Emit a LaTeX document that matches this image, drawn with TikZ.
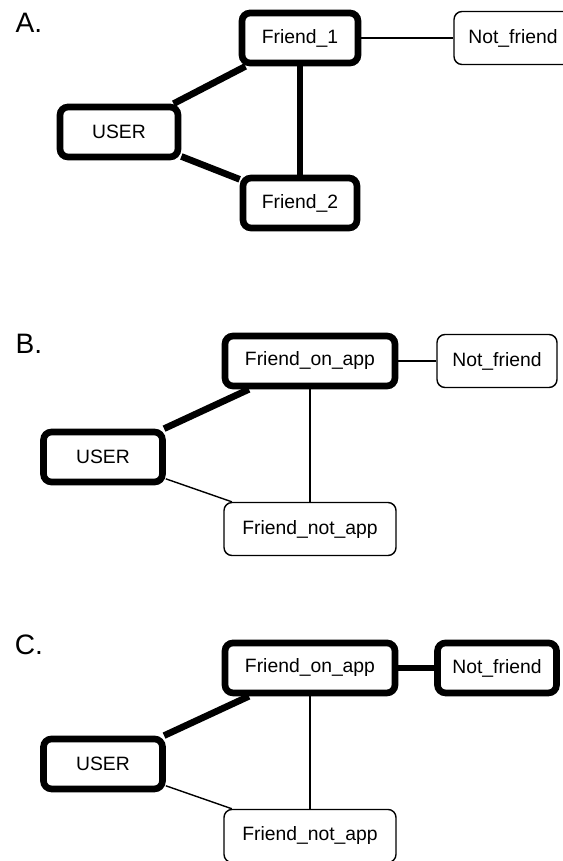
\documentclass[tikz,border=0pt]{standalone}
\usepackage{fontspec}
\setmainfont{Liberation Sans}
\tikzset{box/.style={draw, fill=white, rounded corners=0.16cm, minimum height=1.06cm, inner sep=2pt, line width=0.8pt, font=\fontsize{11}{13}\selectfont},
         hot/.style={line width=3.8pt, minimum height=1.0cm},
         link/.style={line width=0.8pt},
         strong/.style={line width=3.8pt},
         tag/.style={font=\fontsize{16}{18}\selectfont}}

\begin{document}
\begin{tikzpicture}[x=0.02cm,y=-0.02cm]
   \useasboundingbox (0,0) rectangle (562,861);
   % A.
   \node[tag] (la) at (29,23) {A.};
   \node[box,hot,minimum width=2.32cm] (fa)  at (300,38)  {Friend\_1};
   \node[box,minimum width=2.36cm]     (nf)  at (513,38)  {Not\_friend};
   \node[box,hot,minimum width=2.36cm] (usr) at (119,132) {USER};
   \node[box,hot,minimum width=2.28cm] (fb)  at (300,203) {Friend\_2};
   \draw[strong] (usr) -- (fa);
   \draw[strong] (usr) -- (fb);
   \draw[strong] (fa)  -- (fb);
   \draw[link]   (fa)  -- (nf);
   % B.
   \node[tag] (lb) at (29,344) {B.};
   \node[box,hot,minimum width=3.4cm]  (fon) at (310,361) {Friend\_on\_app};
   \node[box,minimum width=2.4cm]      (nf)  at (497,361) {Not\_friend};
   \node[box,hot,minimum width=2.38cm] (usr) at (103,457) {USER};
   \node[box,minimum width=3.44cm]     (fna) at (310,529) {Friend\_not\_app};
   \draw[strong] (usr) -- (fon);
   \draw[link]   (usr) -- (fna);
   \draw[link]   (fon) -- (fna);
   \draw[link]   (fon) -- (nf);
   % C.
   \begin{scope}[yshift=-6.14cm]
    \node[tag] (lc) at (29,338) {C.};
    \node[box,hot,minimum width=3.4cm]  (fon) at (310,361) {Friend\_on\_app};
    \node[box,hot,minimum width=2.38cm] (nf)  at (497,361) {Not\_friend};
    \node[box,hot,minimum width=2.38cm] (usr) at (103,457) {USER};
    \node[box,minimum width=3.44cm]     (fna) at (310,529) {Friend\_not\_app};
    \draw[strong] (usr) -- (fon);
    \draw[link]   (usr) -- (fna);
    \draw[link]   (fon) -- (fna);
    \draw[strong] (fon) -- (nf);
   \end{scope}
\end{tikzpicture}
\end{document}
